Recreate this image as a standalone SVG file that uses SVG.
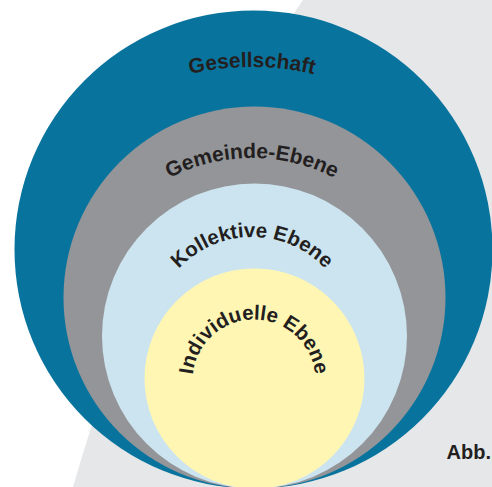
<svg xmlns="http://www.w3.org/2000/svg" width="492" height="487" viewBox="0 0 492 487">
  <defs>
    <style>
      .lbl { font-family: "Liberation Sans", Arial, sans-serif; font-weight: bold; fill: #231f20; }
    </style>
    <path id="arc-ges" d="M -18,337 A 270 270 0 0 1 522,337"/>
    <path id="arc-gem" d="M 73,337 A 179 179 0 0 1 431,337"/>
    <path id="arc-kol" d="M 152,337 A 100 100 0 0 1 352,337"/>
    <path id="arc-ind" d="M 196.21,402.03 A 61.5 61.5 0 1 1 311.79,402.03"/>
  </defs>
  <rect x="0" y="0" width="492" height="487" fill="#ffffff"/>
  <path id="background" d="M 303,0 L 492,0 L 492,487 L 73,487 A 1650 1650 0 0 1 303,0 Z" fill="#e6e7e8"/>
  <g id="node-gesellschaft">
    <circle cx="253.5" cy="249.5" r="239" fill="#08749e"/>
    <text class="lbl" font-size="21"><textPath href="#arc-ges" startOffset="50%" text-anchor="middle">Gesellschaft</textPath></text>
  </g>
  <g id="node-gemeinde">
    <circle cx="254.5" cy="297.5" r="191" fill="#939598"/>
    <text class="lbl" font-size="21"><textPath href="#arc-gem" startOffset="50%" text-anchor="middle">Gemeinde-Ebene</textPath></text>
  </g>
  <g id="node-kollektiv">
    <circle cx="254.5" cy="336" r="152.5" fill="#cce4f0"/>
    <text class="lbl" font-size="20.5"><textPath href="#arc-kol" startOffset="50%" text-anchor="middle">Kollektive Ebene</textPath></text>
  </g>
  <g id="node-individuell">
    <circle cx="254.5" cy="378.5" r="110" fill="#fff6b3"/>
    <text class="lbl" font-size="20.5"><textPath href="#arc-ind" startOffset="50%" text-anchor="middle">Individuelle Ebene</textPath></text>
  </g>
  <text id="abb" class="lbl" x="446.5" y="459" font-size="20">Abb.</text>
</svg>
